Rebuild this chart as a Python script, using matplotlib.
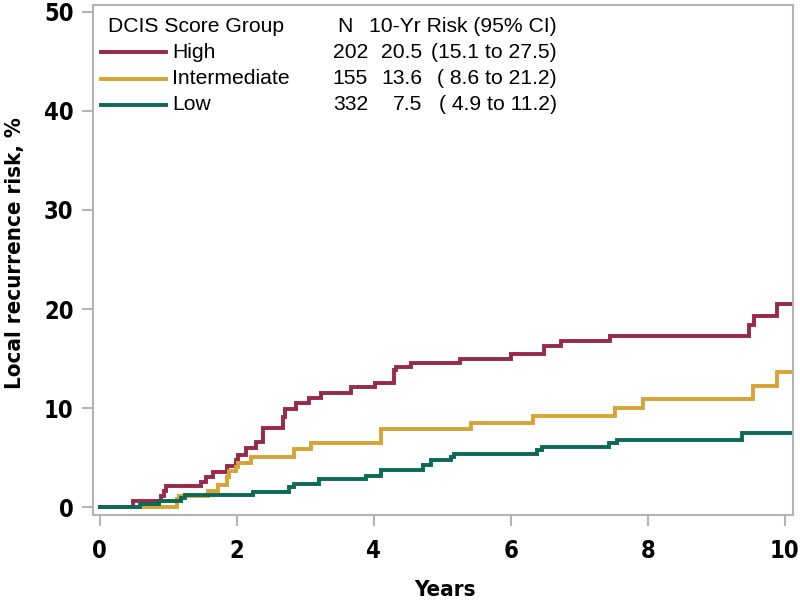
import matplotlib
matplotlib.use('Agg')
import matplotlib.pyplot as plt
from matplotlib import font_manager
from matplotlib.lines import Line2D

# look for a narrow bold font for the axis text
narrow_file = None
for f in font_manager.fontManager.ttflist:
    fn = f.fname.lower()
    if ('narrow' in fn or 'condensed' in fn) and 'bold' in fn and 'oblique' not in fn and 'italic' not in fn:
        if narrow_file is None or 'liberation' in fn:
            narrow_file = f.fname
if narrow_file:
    axis_font = font_manager.FontProperties(fname=narrow_file)
else:
    axis_font = font_manager.FontProperties(family='Liberation Sans', weight='bold')
plt.rcParams['font.family'] = ['Liberation Sans', 'DejaVu Sans']

# step curves (years, cumulative risk %)
high_t = [0, 0.49, 0.90, 0.93, 0.97, 1.47, 1.55, 1.65, 1.85, 1.99, 2.01, 2.14, 2.28, 2.38,
          2.67, 2.70, 2.87, 3.06, 3.23, 3.67, 4.02, 4.30, 4.33, 4.54, 5.26, 6.00, 6.49,
          6.74, 7.45, 9.48, 9.55, 9.89]
high_v = [0, 0.6, 1.1, 1.6, 2.1, 2.5, 3.0, 3.5, 4.1, 4.8, 5.3, 6.0, 6.6, 8.0,
          9.1, 9.9, 10.5, 11.0, 11.5, 12.1, 12.5, 13.8, 14.1, 14.5, 15.0, 15.5, 16.3,
          16.8, 17.3, 18.4, 19.3, 20.5]

mid_t = [0, 1.12, 1.15, 1.58, 1.72, 1.85, 1.88, 1.99, 2.02, 2.20, 2.83, 3.09, 4.10,
         5.42, 6.32, 7.52, 7.93, 9.54, 9.89]
mid_v = [0, 0.8, 1.1, 1.6, 2.2, 3.0, 3.6, 4.0, 4.5, 5.1, 5.9, 6.5, 7.9,
         8.5, 9.2, 10.0, 10.9, 12.2, 13.6]

low_t = [0, 0.58, 0.87, 1.19, 1.24, 2.23, 2.76, 2.84, 3.20, 3.89, 4.10, 4.72, 4.83,
         5.13, 5.17, 6.38, 6.45, 7.43, 7.55, 9.37]
low_v = [0, 0.3, 0.6, 0.9, 1.2, 1.5, 2.0, 2.3, 2.8, 3.1, 3.7, 4.2, 4.8,
         5.1, 5.4, 5.8, 6.1, 6.5, 6.8, 7.5]

followup_end = 10.1

# legend table
group_names = ['High', 'Intermediate', 'Low']
group_n = [202, 155, 332]
risk_10yr = [20.5, 13.6, 7.5]
ci_lo = [15.1, 8.6, 4.9]
ci_hi = [27.5, 21.2, 11.2]
colors = ['#98294A', '#D7A335', '#0A6A55']

x_ticks = [0, 2, 4, 6, 8, 10]
y_ticks = [0, 10, 20, 30, 40, 50]

fig = plt.figure(figsize=(8, 6), dpi=100)
ax = fig.add_axes([93 / 800, 1 - 515 / 600, 700 / 800, 510 / 600])

curves = [(high_t, high_v), (mid_t, mid_v), (low_t, low_v)]
for (t, v), c in zip(curves, colors):
    ax.step(t + [followup_end], v + [v[-1]], where='post', color=c, lw=2.8,
            solid_joinstyle='miter')

ax.set_xlim(-0.10, 10.12)
ax.set_ylim(-0.8, 50.7)
ax.set_xticks(x_ticks)
ax.set_yticks(y_ticks)
for s in ax.spines.values():
    s.set_color('#B4B4B4')
    s.set_linewidth(1.5)
ax.tick_params(color='#B4B4B4', width=1.5, length=8, pad=6)
ax.tick_params(axis='x', pad=9)
for lab in ax.get_xticklabels() + ax.get_yticklabels():
    lab.set_fontproperties(axis_font)
    lab.set_fontsize(17)

def fx(px):
    return px / 800
def fy(py):
    return 1 - py / 600

# axis titles
fig.text(fx(445), fy(590), 'Years', fontproperties=axis_font, fontsize=16,
         ha='center', va='center')
fig.text(fx(15), fy(253), 'Local recurrence risk, %', fontproperties=axis_font,
         fontsize=16, rotation=90, ha='center', va='center')

# legend drawn as a small table (pixel positions)
fs = 15.2
fig.text(fx(108), fy(26), 'DCIS Score Group', fontsize=fs, va='center')
fig.text(fx(353), fy(26), 'N', fontsize=fs, va='center', ha='right')
fig.text(fx(557), fy(26), '10-Yr Risk (95% CI)', fontsize=fs, va='center', ha='right')
for i in range(3):
    yy = 52 + i * 26.5
    fig.add_artist(Line2D([fx(101), fx(166)], [fy(yy), fy(yy)], color=colors[i], lw=2.8))
    fig.text(fx(172), fy(yy), group_names[i], fontsize=fs, va='center')
    fig.text(fx(368), fy(yy), str(group_n[i]), fontsize=fs, va='center', ha='right')
    fig.text(fx(422), fy(yy), '%.1f' % risk_10yr[i], fontsize=fs, va='center', ha='right')
    fig.text(fx(557), fy(yy), '(%4.1f to %4.1f)' % (ci_lo[i], ci_hi[i]), fontsize=fs,
             va='center', ha='right')

fig.savefig('out.png', dpi=100)
